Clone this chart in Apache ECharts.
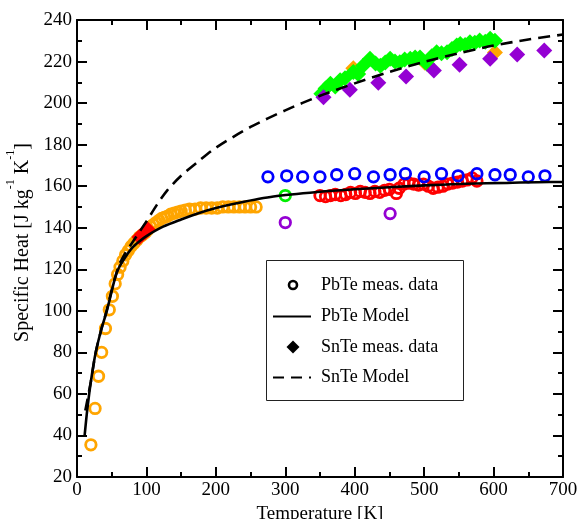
<!DOCTYPE html>
<html>
<head>
<meta charset="utf-8">
<script src="https://cdn.jsdelivr.net/npm/echarts@6/dist/echarts.min.js"></script>
<style>
html, body { margin: 0; padding: 0; background: #fff; }
#chart { width: 581px; height: 519px; }
</style>
</head>
<body>
<div id="chart"></div>
<script>
// temperature [K], specific heat [J/kg/K]
var pbteOrange = [[20,35.5],[26,53],[31,68.5],[35.5,80],[41,91.5],[46.5,100.5],[51,107],[55,113],[58.5,117.5],[62,121],[66,124],[70,127],[74,129],[78,131],[82,132.5],[86,134],[90,135.5],[94,136.5],[98,137.5],[102,139],[106,140.5],[110,141.5],[114,142.5],[118,143.5],[122,144.5],[126,145],[130,145.5],[135,146.5],[140,147],[145,147.5],[150,148],[156,148.5],[162,149],[170,149],[178,149.5],[186,149.5],[194,149.5],[202,149.5],[210,150],[218,150],[226,150],[234,150],[242,150],[250,150],[258,150]];
var pbteRed = [[350,155.5],[358,155],[365,155.5],[372,156],[380,155.5],[387,156],[394,157],[401,156.5],[408,157.5],[415,157],[422,156.5],[429,157.5],[436,157],[443,158],[450,158.5],[460,156.5],[464,159],[471,161],[478,161.5],[485,161],[492,160.5],[499,161],[506,160],[513,159],[520,159.5],[527,160],[534,161],[541,161.5],[548,162],[555,162.5],[562,163],[569,164],[576,162.5]];
var pbteBlue = [[275,164.5],[302,165],[325,164.5],[350,164.5],[374,165.5],[400,166],[427,164.5],[451,165.5],[473,166],[500,164.5],[525,166],[549,165],[576,166],[602,165.5],[624,165.5],[650,164.5],[674,165]];
var pbteGreen = [[300,155.5]];
var pbtePurple = [[300,142.5],[451,146.8]];
var snteRed = [[90,135.5],[94,136.8],[98,138],[102,139.2]];
var snteOrange = [[398,216.8],[501,219.4],[602,224.3]];
var snteGreen = [[352,204.5],[358,207],[365,209.3],[372,208],[379,211],[386,212],[398,215],[405,214],[412,218],[422,221.3],[430,219],[437,218],[444,219.5],[451,221.3],[458,220],[465,219.7],[472,221],[480,221.3],[487,222],[494,222],[504,218.9],[511,222.5],[518,224.5],[525,224],[533,224.5],[540,226],[547,227.7],[552,228.5],[559,228],[566,229.3],[573,229],[580,230.1],[588,229.5],[595,231],[602,230]];
var sntePurple = [[355,202.8],[393,206.4],[434,209.8],[474,212.8],[514,215.7],[551,218.4],[595,221.3],[634,223.4],[673,225.3]];
var pbteModel = [[11,40],[15,53],[20,66],[27,80],[35,91],[43,100],[50,109.5],[55,116],[60,120.5],[70,126],[80,130.5],[90,133.5],[100,136],[124,140.5],[150,144],[175,147],[200,149.5],[230,151.8],[283,155],[350,157.3],[400,158.5],[450,159.5],[509,160.5],[560,161.2],[620,161.6],[680,162],[700,162]];
var snteModel = [[12,52],[20,66],[27,80],[35,91],[43,100.5],[50,110],[60,121.5],[70,128],[80,133],[90,138],[100,143],[115,151],[130,158],[150,165],[175,172],[200,178.5],[250,188.5],[300,196.5],[350,203.5],[400,209.5],[450,215],[500,219.8],[550,224],[600,227.7],[650,230.6],[700,233]];

var serif = '"Liberation Serif", "DejaVu Serif", serif';
var chart = echarts.init(document.getElementById('chart'));

function circles(data, color) {
    return {
        type: 'scatter', data: data, symbol: 'circle', symbolSize: 10.5,
        itemStyle: { color: 'rgba(0,0,0,0)', borderColor: color, borderWidth: 2.8, opacity: 1 },
        silent: true
    };
}
function diamonds(data, color) {
    return {
        type: 'scatter', data: data, symbol: 'diamond', symbolSize: 16,
        itemStyle: { color: color, opacity: 1 },
        silent: true
    };
}
function axisBase(pos, showLabel) {
    return {
        type: 'value',
        position: pos,
        axisLine: { show: true, onZero: false, lineStyle: { color: '#000', width: 2 } },
        axisTick: { show: true, inside: true, length: 10, lineStyle: { color: '#000', width: 2 } },
        minorTick: { show: true, splitNumber: 2, length: 5, lineStyle: { color: '#000', width: 2 } },
        splitLine: { show: false },
        axisLabel: { show: showLabel, color: '#000', fontFamily: serif, fontSize: 19 }
    };
}

var xBottom = axisBase('bottom', true);
xBottom.min = 0; xBottom.max = 700; xBottom.interval = 100;
xBottom.axisLabel.margin = 4;
xBottom.name = 'Temperature [K]';
xBottom.nameLocation = 'middle';
xBottom.nameGap = 27;
xBottom.nameTextStyle = { color: '#000', fontFamily: serif, fontSize: 19 };
var xTop = axisBase('top', false);
xTop.min = 0; xTop.max = 700; xTop.interval = 100;

var yLeft = axisBase('left', true);
yLeft.min = 20; yLeft.max = 240; yLeft.interval = 20;
yLeft.axisLabel.margin = 5;
yLeft.name = '{a|Specific Heat [J kg}{s|-1}{a| K}{s|-1}{a|]}';
yLeft.nameLocation = 'middle';
yLeft.nameRotate = 90;
yLeft.nameGap = 37;
yLeft.nameTextStyle = {
    padding: [0, 0, 0, 12],
    rich: {
        a: { color: '#000', fontFamily: serif, fontSize: 20, lineHeight: 28, verticalAlign: 'bottom' },
        s: { color: '#000', fontFamily: serif, fontSize: 12, lineHeight: 12, verticalAlign: 'top' }
    }
};
var yRight = axisBase('right', false);
yRight.min = 20; yRight.max = 240; yRight.interval = 20;

var legendRows = [285, 316.5, 347, 377.5];
var legendNames = ['PbTe meas. data', 'PbTe Model', 'SnTe meas. data', 'SnTe Model'];
var legendGraphics = [
    { type: 'rect', shape: { x: 266.5, y: 260.5, width: 197, height: 140 }, style: { fill: '#fff', stroke: '#222', lineWidth: 1 } },
    { type: 'circle', shape: { cx: 293, cy: legendRows[0], r: 4 }, style: { fill: '#fff', stroke: '#000', lineWidth: 2.6 } },
    { type: 'line', shape: { x1: 273, y1: legendRows[1], x2: 311, y2: legendRows[1] }, style: { stroke: '#000', lineWidth: 2 } },
    { type: 'polygon', shape: { points: [[293, legendRows[2] - 6.5], [299.5, legendRows[2]], [293, legendRows[2] + 6.5], [286.5, legendRows[2]]] }, style: { fill: '#000' } },
    { type: 'line', shape: { x1: 273, y1: legendRows[3], x2: 311, y2: legendRows[3] }, style: { stroke: '#000', lineWidth: 2, lineDash: [11, 7] } }
];
legendNames.forEach(function (n, i) {
    legendGraphics.push({
        type: 'text', x: 321, y: legendRows[i],
        style: { text: n, fill: '#000', font: '18px ' + serif, verticalAlign: 'middle', align: 'left' }
    });
});

var option = {
    animation: false,
    backgroundColor: '#fff',
    grid: { left: 77, right: 18, top: 20, bottom: 42, containLabel: false, outerBoundsMode: 'none' },
    xAxis: [xBottom, xTop],
    yAxis: [yLeft, yRight],
    series: [
        circles(pbteOrange, '#ffa500'),
        circles(pbteRed, '#ff0000'),
        circles(pbteBlue, '#0000ff'),
        circles(pbteGreen, '#00ee00'),
        circles(pbtePurple, '#9400d3'),
        diamonds(snteRed, '#ff0000'),
        diamonds(snteOrange, '#ffa500'),
        diamonds(snteGreen, '#00ff00'),
        diamonds(sntePurple, '#9400d3'),
        {
            type: 'line', data: pbteModel, showSymbol: false, smooth: 0.3,
            lineStyle: { color: '#000', width: 2.6 }, silent: true
        },
        {
            type: 'line', data: snteModel, showSymbol: false, smooth: 0.3,
            lineStyle: { color: '#000', width: 2.6, type: [12, 7] }, silent: true
        }
    ],
    graphic: legendGraphics
};
chart.setOption(option);
</script>
</body>
</html>
